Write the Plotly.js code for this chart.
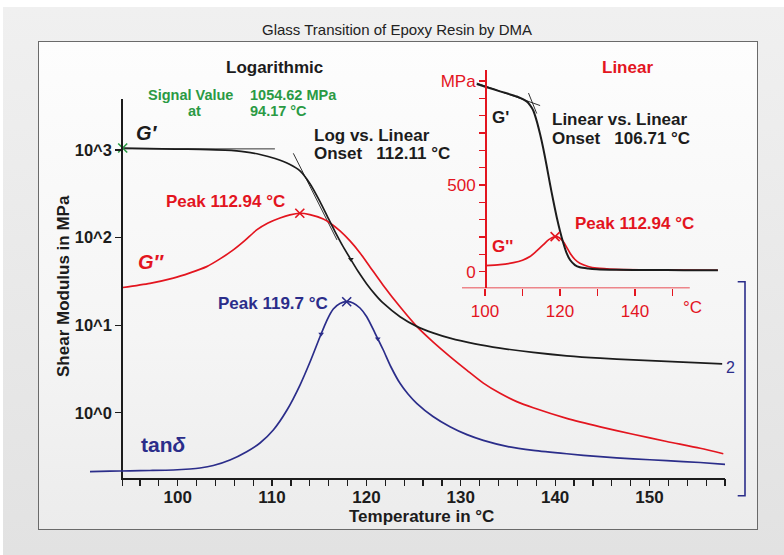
<!DOCTYPE html>
<html><head><meta charset="utf-8">
<script src="https://cdn.plot.ly/plotly-3.0.1.min.js"></script>
<style>
html,body{margin:0;padding:0;width:784px;height:555px;overflow:hidden;background:#fff;}
#bg{position:absolute;left:3px;top:7px;width:781px;height:548px;background:linear-gradient(#f0f0f0,#e2e2e2);}
#frame{position:absolute;left:38px;top:41px;width:718px;height:487px;border:1.5px solid #6a6a6a;background:linear-gradient(#fdfdfd 0%,#f5f5f5 60%,#ececec 100%);}
#chart{position:absolute;left:0;top:0;width:784px;height:555px;}
</style></head><body>
<div id="bg"></div><div id="frame"></div><div id="chart"></div>
<script>
// ---------- data ----------
const tempGp = [94.17, 97.06, 99.71, 102.36, 105.01, 107.13, 108.72, 110.31, 111.90, 112.96, 114.02, 115.08, 115.93, 116.67, 117.41, 118.26, 119.11, 120.03, 120.91, 121.79, 123.56, 125.33, 127.05, 128.86, 131.51, 134.16, 137.66, 141.22, 144.78, 148.28, 151.82, 155.37, 157.7];
const gPrime = [1054, 1038, 1026, 1016, 995, 954, 889, 800, 683, 578, 412, 257, 168, 117, 83.2, 58.2, 41.2, 29.6, 22.5, 17.8, 12.5, 9.69, 8.17, 7.11, 6.12, 5.47, 4.89, 4.47, 4.20, 4.02, 3.86, 3.72, 3.62];

const tempGpp = [94.17, 97.06, 99.53, 101.30, 103.07, 104.48, 105.89, 107.13, 108.37, 109.57, 110.84, 111.90, 112.94, 114.0, 115.43, 116.14, 117.20, 118.26, 119.32, 120.38, 121.75, 123.56, 125.33, 127.05, 128.86, 130.66, 132.39, 134.16, 135.93, 137.68, 141.22, 144.78, 148.25, 151.82, 155.37, 157.82];
const gDouble = [26.9, 30.0, 34.4, 39.5, 46.6, 57.1, 72.3, 92.8, 122.3, 146.9, 167.6, 182, 189.6, 183, 163.2, 146.9, 119.1, 91.6, 66.8, 46.3, 28.8, 16.2, 9.69, 6.45, 4.38, 3.05, 2.18, 1.667, 1.34, 1.139, 0.864, 0.691, 0.568, 0.470, 0.393, 0.340];

const tempTan = [90.705, 92.824, 94.944, 97.063, 99.532, 101.302, 102.362, 103.771, 105.541, 107.311, 108.721, 110.130, 111.582, 112.960, 114.020, 115.080, 115.822, 116.488, 117.198, 117.908, 118.576, 119.317, 120.028, 120.907, 121.787, 122.603, 123.557, 124.405, 125.327, 127.055, 128.856, 130.658, 132.386, 135.003, 137.685, 141.225, 144.754, 148.251, 151.823, 155.369, 158.019];
const tanDelta = [0.0333, 0.0359, 0.0380, 0.0396, 0.0422, 0.0475, 0.0528, 0.0660, 0.0951, 0.1389, 0.1848, 0.2535, 0.3591, 0.4911, 0.6126, 0.7462, 0.8344, 0.8925, 0.9215, 0.9310, 0.9242, 0.8978, 0.8518, 0.7657, 0.6760, 0.5862, 0.5001, 0.4436, 0.3945, 0.3248, 0.2709, 0.229, 0.199, 0.166, 0.146, 0.128, 0.1125, 0.1014, 0.0914, 0.0819, 0.0723];

const insetTempGp = [97.8, 100.5, 104.0, 108.5, 111.1, 112.0, 112.9, 113.8, 114.7, 115.5, 116.4, 117.3, 118.2, 119.1, 120.0, 120.9, 121.8, 122.7, 124.0, 125.3, 127.5, 129.8, 135, 144, 153, 162.1];
const insetGp = [1082, 1064, 1040, 1010, 982, 960, 928, 868, 792, 715, 615, 510, 410, 317, 235, 164, 105, 67, 38, 25, 18, 14, 11, 9.5, 8.5, 8];
const insetTempGpp = [100, 104, 107.6, 110, 112, 113.8, 115.5, 117, 118.7, 119.8, 120.9, 121.8, 122.7, 124, 125.3, 127.5, 129.8, 135, 144, 153, 162.1];
const insetGpp = [35, 40, 52, 66, 87, 120, 154, 185, 202, 196, 173, 140, 106, 70, 48, 30, 20, 13, 10, 8.5, 8];

// evaluation results shown on the chart
const signalTemp = 94.17, signalValue = 1054.62;
const onsetLog = 112.11, onsetLin = 106.71, peakGpp = 112.94, peakTan = 119.7;
// construction (tangent) lines
const tanBaseT = [94.17, 110.3], tanBaseV = [1030, 1030];
const tanSteepT = [112.25, 116.88], tanSteepV = [917, 94];
const insTanAT = [97.8, 114.7], insTanAV = [1088, 958];
const insTanBT = [111.6, 113.8], insTanBV = [1030, 912];
// direction arrows on curves (temperatures)
const arrowGpT = [118.35], arrowTanT = [115.2, 121.2];

// axis ranges / ticks
const xMin = 94.17, xMax = 158;
const yTickVals = [1, 10, 100, 1000], yTickText = ['10^0', '10^1', '10^2', '10^3'];
const insetXTicks = [100, 110, 120, 130, 140, 150];
const insetYTicks = [0,100,200,300,400,500,600,700,800,900,1000,1100];

// ---------- layout helpers ----------
const W = 784, H = 555, L = 90, R = 59, T = 60, B = 77;
const pw = W - L - R, ph = H - T - B;
const px = x => (x - L) / pw;
const py = y => (H - B - y) / ph;

const RED = '#e3151f', NAVY = '#2b2d8a', BLK = '#1c1c1c', GRN = '#2a9a44';
const FONT = 'Liberation Sans, Arial, sans-serif';

function interp(xs, ys, t) {
  for (let i = 0; i < xs.length - 1; i++) {
    if (t >= xs[i] && t <= xs[i + 1]) {
      const f = (t - xs[i]) / (xs[i + 1] - xs[i]);
      return ys[i] + f * (ys[i + 1] - ys[i]);
    }
  }
  return ys[ys.length - 1];
}
function argmax(ys) { let k = 0; ys.forEach((v, i) => { if (v > ys[k]) k = i; }); return k; }

const xScale = pw * (1 - px(122.7)) / (xMax - xMin); // px per °C
const x2Min = xMin - (122.7 - L) / xScale;

const kG = argmax(gDouble), kT = argmax(tanDelta), kI = argmax(insetGpp);
const SPL = {shape: 'spline', smoothing: 0.7};

const traces = [
  {x: tanBaseT, y: tanBaseV, xaxis: 'x', yaxis: 'y', mode: 'lines', line: {color: BLK, width: 0.9}, hoverinfo: 'skip'},
  {x: tanSteepT, y: tanSteepV, xaxis: 'x', yaxis: 'y', mode: 'lines', line: {color: BLK, width: 0.9}, hoverinfo: 'skip'},
  {x: tempGpp, y: gDouble, xaxis: 'x', yaxis: 'y', mode: 'lines', line: Object.assign({color: RED, width: 1.7}, SPL)},
  {x: tempGp, y: gPrime, xaxis: 'x', yaxis: 'y', mode: 'lines', line: Object.assign({color: BLK, width: 1.7}, SPL)},
  {x: tempTan, y: tanDelta, xaxis: 'x2', yaxis: 'y2', mode: 'lines', line: Object.assign({color: NAVY, width: 1.7}, SPL)},
  {x: [tempGpp[kG]], y: [gDouble[kG]], xaxis: 'x', yaxis: 'y', mode: 'markers', cliponaxis: false,
   marker: {symbol: 'x-thin', size: 9, line: {color: RED, width: 1.6}}},
  {x: [tempTan[kT]], y: [tanDelta[kT]], xaxis: 'x2', yaxis: 'y2', mode: 'markers', cliponaxis: false,
   marker: {symbol: 'x-thin', size: 9, line: {color: NAVY, width: 1.6}}},
  {x: [signalTemp], y: [signalValue], xaxis: 'x', yaxis: 'y', mode: 'markers', cliponaxis: false,
   marker: {symbol: 'x-thin', size: 9, line: {color: GRN, width: 1.6}}},
  {x: arrowGpT, y: arrowGpT.map(t => interp(tempGp, gPrime, t)), xaxis: 'x', yaxis: 'y', mode: 'markers',
   marker: {symbol: 'triangle-down', size: 5, color: BLK}},
  {x: arrowTanT, y: arrowTanT.map(t => interp(tempTan, tanDelta, t)), xaxis: 'x2', yaxis: 'y2', mode: 'markers',
   marker: {symbol: 'triangle-down', size: 5, color: NAVY}},
  // G' again on the tick-mark axis (invisible) so that axis gets drawn
  {x: tempGp, y: gPrime, xaxis: 'x4', yaxis: 'y', mode: 'lines', line: {color: 'rgba(0,0,0,0)', width: 0}, hoverinfo: 'skip'},
  {x: insTanAT, y: insTanAV, xaxis: 'x3', yaxis: 'y3', mode: 'lines', line: {color: BLK, width: 0.9}, hoverinfo: 'skip'},
  {x: insTanBT, y: insTanBV, xaxis: 'x3', yaxis: 'y3', mode: 'lines', line: {color: BLK, width: 0.9}, hoverinfo: 'skip'},
  {x: insetTempGpp, y: insetGpp, xaxis: 'x3', yaxis: 'y3', mode: 'lines', line: Object.assign({color: RED, width: 1.7}, SPL)},
  {x: insetTempGp, y: insetGp, xaxis: 'x3', yaxis: 'y3', mode: 'lines', line: Object.assign({color: BLK, width: 2}, SPL)},
  {x: [insetTempGpp[kI]], y: [insetGpp[kI]], xaxis: 'x3', yaxis: 'y3', mode: 'markers', cliponaxis: false,
   marker: {symbol: 'x-thin', size: 9, line: {color: RED, width: 1.6}}}
];

const mainXTicks = [xMin];
for (let v = 96; v <= 158; v += 2) mainXTicks.push(v);
const mainXLabelVals = mainXTicks.filter(v => Number.isInteger(v) && v % 10 === 0);

const yTop = py(99.3);

const layout = {
  width: W, height: H,
  margin: {l: L, r: R, t: T, b: B, pad: 0},
  paper_bgcolor: 'rgba(0,0,0,0)', plot_bgcolor: 'rgba(0,0,0,0)',
  showlegend: false,
  font: {family: FONT, color: BLK},
  xaxis: {domain: [px(122.7), 1], range: [xMin, xMax], anchor: 'y', showgrid: false, zeroline: false,
    showline: true, linecolor: BLK, linewidth: 1.5, ticks: '', ticklabelstandoff: 3,
    tickmode: 'array', tickvals: mainXLabelVals, ticktext: mainXLabelVals.map(String),
    tickfont: {family: FONT, size: 17, color: BLK, weight: 700}},
  xaxis4: {domain: [px(122.7), 1], range: [xMin, xMax], anchor: 'y', overlaying: 'x', showgrid: false, zeroline: false,
    showline: false, ticks: 'outside', ticklen: 7, tickwidth: 1.2, tickcolor: BLK, showticklabels: false,
    tickmode: 'array', tickvals: mainXTicks},
  yaxis: {domain: [0, yTop], type: 'log', range: [-0.745, 3.579], anchor: 'x', showgrid: false, zeroline: false,
    showline: true, linecolor: BLK, linewidth: 1.5, ticks: 'outside', ticklen: 6, tickwidth: 1.2, tickcolor: BLK,
    tickmode: 'array', tickvals: yTickVals, ticktext: yTickText,
    tickfont: {family: FONT, size: 16.5, color: BLK, weight: 700}},
  xaxis2: {domain: [0, 1], range: [x2Min, xMax], anchor: 'y2', visible: false},
  yaxis2: {domain: [0, yTop], range: [0, 2], anchor: 'x2', visible: false},
  xaxis3: {domain: [px(462), px(718)], range: [93.87, 162.13], anchor: 'y3', showgrid: false, zeroline: false,
    showline: false, ticks: 'outside', ticklen: 7, tickwidth: 1.5, tickcolor: RED,
    tickmode: 'array', tickvals: insetXTicks, ticktext: insetXTicks.map(v => v % 20 === 0 ? String(v) : ''),
    tickfont: {family: FONT, size: 17, color: RED}},
  yaxis3: {domain: [py(288.3), py(70)], range: [-96, 1163], anchor: 'free', position: px(485), showgrid: false, zeroline: false,
    showline: true, linecolor: RED, linewidth: 1.5, ticks: 'outside', ticklen: 6, tickwidth: 1.5, tickcolor: RED,
    tickmode: 'array', tickvals: insetYTicks, ticktext: insetYTicks.map(v => v === 0 ? '0' : v === 500 ? '500' : v === 1100 ? 'MPa' : ''),
    tickfont: {family: FONT, size: 17, color: RED}},
  shapes: [
    {type: 'line', xref: 'x3', yref: 'y3', x0: 93.87, x1: 154.6, y0: -96, y1: -96, line: {color: RED, width: 1.5}},
    {type: 'path', xref: 'paper', yref: 'paper',
     path: `M ${px(737.7)} ${py(281.7)} L ${px(745)} ${py(281.7)} L ${px(745)} ${py(495.7)} L ${px(737.7)} ${py(495.7)}`,
     line: {color: NAVY, width: 1.6}}
  ],
  annotations: []
};

function A(text, x, y, o = {}) {
  layout.annotations.push(Object.assign({
    text, xref: 'paper', yref: 'paper', x: px(x), y: py(y), showarrow: false,
    xanchor: 'center', yanchor: 'middle',
    font: {family: FONT, size: 17, color: BLK, weight: 700}
  }, o));
}
const bold = (size, color) => ({family: FONT, size, color, weight: 700});

A('Glass Transition of Epoxy Resin by DMA', 397, 30, {font: {family: FONT, size: 15, color: '#222'}});
A('Logarithmic', 274, 67, {font: bold(17, BLK)});
A('Signal Value', 190, 95, {font: bold(14.5, GRN)});
A('at', 194, 111, {font: bold(14.5, GRN)});
A(signalValue.toFixed(2) + ' MPa', 248, 95, {xanchor: 'left', font: bold(14.5, GRN)});
A(signalTemp.toFixed(2) + ' °C', 248, 111, {xanchor: 'left', font: bold(14.5, GRN)});
A('<i>G′</i>', 147, 133, {font: bold(20, BLK)});
A('Log vs. Linear', 312, 135, {xanchor: 'left', font: bold(17, BLK)});
A('Onset   ' + onsetLog.toFixed(2) + ' °C', 312, 153.5, {xanchor: 'left', font: bold(17, BLK)});
A('Peak ' + peakGpp.toFixed(2) + ' °C', 225, 201, {font: bold(17, RED)});
A('<i>G″</i>', 151, 262, {font: bold(20, RED)});
A('Peak ' + peakTan.toFixed(1) + ' °C', 273, 303.5, {font: bold(17, NAVY)});
A('tan<i>δ</i>', 163, 444, {font: bold(21, NAVY)});
A('2', 730, 367, {font: {family: FONT, size: 16, color: NAVY}});
A('Shear Modulus in MPa', 63, 286, {textangle: -90, font: bold(17, BLK)});
A('Temperature in °C', 421, 516, {font: bold(17, BLK)});
A('Linear', 627, 67, {font: bold(17, RED)});
A("G'", 500, 118, {font: bold(17, BLK)});
A('Linear vs. Linear', 550, 119, {xanchor: 'left', font: bold(17, BLK)});
A('Onset   ' + onsetLin.toFixed(2) + ' °C', 550, 138, {xanchor: 'left', font: bold(17, BLK)});
A('Peak ' + peakGpp.toFixed(2) + ' °C', 634, 223, {font: bold(17, RED)});
A("G''", 502, 246, {font: bold(17, RED)});
A('°C', 692, 307, {font: {family: FONT, size: 17, color: RED}});

Plotly.newPlot('chart', traces, layout, {staticPlot: true, displayModeBar: false});
</script></body></html>
